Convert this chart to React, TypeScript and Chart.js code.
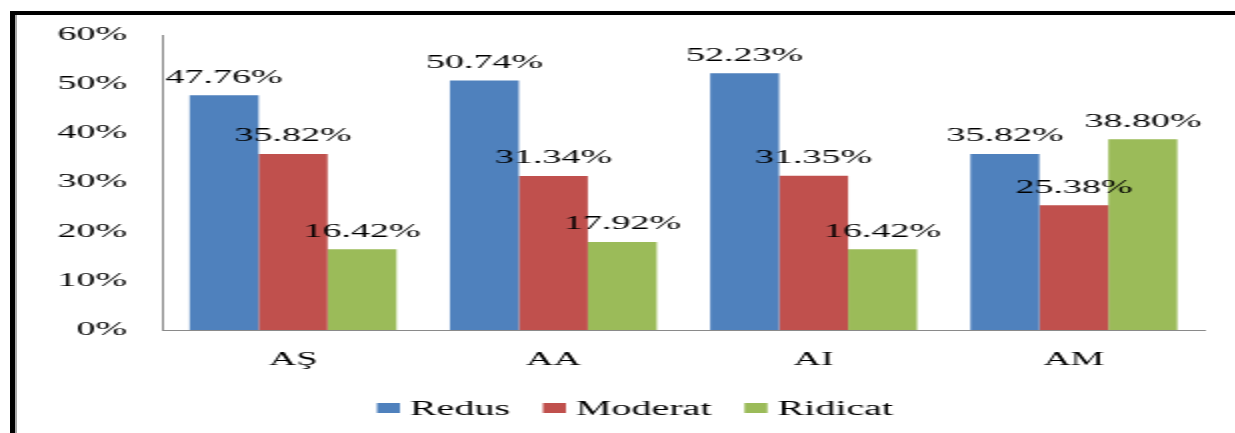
import React, { useEffect, useRef } from "react";
import { Chart, registerables } from "chart.js";

Chart.register(...registerables);

const categories = ["AŞ", "AA", "AI", "AM"];
const seriesNames = ["Redus", "Moderat", "Ridicat"];
const redus = [47.76, 50.74, 52.23, 35.82];
const moderat = [35.82, 31.34, 31.35, 25.38];
const ridicat = [16.42, 17.92, 16.42, 38.8];
const seriesColors = ["#4F81BD", "#C0504D", "#9BBB59"];
const yTicks = [0, 10, 20, 30, 40, 50, 60];

const FONT = '"Liberation Serif", "Times New Roman", serif';

const dataLabelPlugin = {
  id: "dataLabels",
  afterDatasetsDraw(chart: any) {
    const ctx = chart.ctx;
    ctx.save();
    ctx.font = `19px ${FONT}`;
    ctx.fillStyle = "#000";
    ctx.textAlign = "center";
    ctx.textBaseline = "alphabetic";
    chart.data.datasets.forEach((ds: any, di: number) => {
      const meta = chart.getDatasetMeta(di);
      meta.data.forEach((el: any, i: number) => {
        const v = ds.data[i] as number;
        ctx.fillText(v.toFixed(2) + "%", el.x, el.y - 12.5);
      });
    });
    ctx.restore();
  },
};

const legendPlugin = {
  id: "customLegend",
  afterDraw(chart: any) {
    const ctx = chart.ctx;
    ctx.save();
    ctx.font = `20px ${FONT}`;
    const items = chart.data.datasets.map((ds: any) => ({
      label: ds.label,
      color: ds.backgroundColor,
      w: ctx.measureText(ds.label).width,
    }));
    const box = 11.5;
    const gap = 5;
    const sep = 16.5;
    const total =
      items.reduce((s: number, it: any) => s + box + gap + it.w, 0) + sep * (items.length - 1);
    let x = 317.5 - total / 2;
    items.forEach((it: any) => {
      ctx.fillStyle = it.color;
      ctx.fillRect(x, 403, box, 10);
      x += box + gap;
      ctx.fillStyle = "#000";
      ctx.textBaseline = "alphabetic";
      ctx.textAlign = "left";
      ctx.fillText(it.label, x, 415);
      x += it.w + sep;
    });
    ctx.restore();
  },
};

export default function App() {
  const canvasRef = useRef<HTMLCanvasElement | null>(null);

  useEffect(() => {
    const canvas = canvasRef.current;
    if (!canvas) return;
    const values = [redus, moderat, ridicat];
    const chart = new Chart(canvas, {
      type: "bar",
      data: {
        labels: categories,
        datasets: seriesNames.map((name, i) => ({
          label: name,
          data: values[i],
          backgroundColor: seriesColors[i],
          borderWidth: 0,
          categoryPercentage: 0.795,
          barPercentage: 1.0,
        })),
      },
      options: {
        responsive: false,
        animation: false,
        devicePixelRatio: 1,
        layout: { padding: { left: 0, right: 16, top: 35, bottom: 0 } },
        plugins: {
          legend: { display: false },
          tooltip: { enabled: false },
        },
        scales: {
          x: {
            grid: { display: false, drawTicks: false },
            border: { display: true, color: "#8A8A8A", width: 1 },
            ticks: {
              color: "#000",
              padding: 19,
              font: { family: FONT, size: 19 },
            },
            afterFit(scale: any) {
              scale.height = 103;
            },
          },
          y: {
            min: 0,
            max: 60,
            afterBuildTicks(scale: any) {
              scale.ticks = yTicks.map((v) => ({ value: v }));
            },
            grid: { display: false, drawTicks: false },
            border: { display: true, color: "#8A8A8A", width: 1 },
            ticks: {
              color: "#000",
              padding: 18,
              font: { family: FONT, size: 19 },
              callback: (v: any) => v + "%",
            },
            afterFit(scale: any) {
              scale.width = 81.5;
            },
          },
        },
      },
      plugins: [dataLabelPlugin, legendPlugin],
    });
    return () => chart.destroy();
  }, []);

  return (
    <div>
      <div
        style={{
          position: "fixed",
          left: 0,
          top: 0,
          width: 1235,
          height: 433,
          background: "#fff",
        }}
      />
      <div
        style={{
          position: "fixed",
          left: 0,
          top: 0,
          width: 618,
          height: 433,
          transform: "scaleX(2)",
          transformOrigin: "0 0",
        }}
      >
        <canvas ref={canvasRef} width={618} height={433} />
      </div>
      <div
        style={{
          position: "fixed",
          left: 10,
          top: 11,
          width: 1225,
          height: 422,
          boxSizing: "border-box",
          borderLeft: "5px solid #000",
          borderTop: "4px solid #000",
          pointerEvents: "none",
        }}
      />
      <div
        style={{
          position: "fixed",
          left: 15,
          top: 15,
          width: 2,
          height: 418,
          background: "#A8A8A8",
          pointerEvents: "none",
        }}
      />
    </div>
  );
}
